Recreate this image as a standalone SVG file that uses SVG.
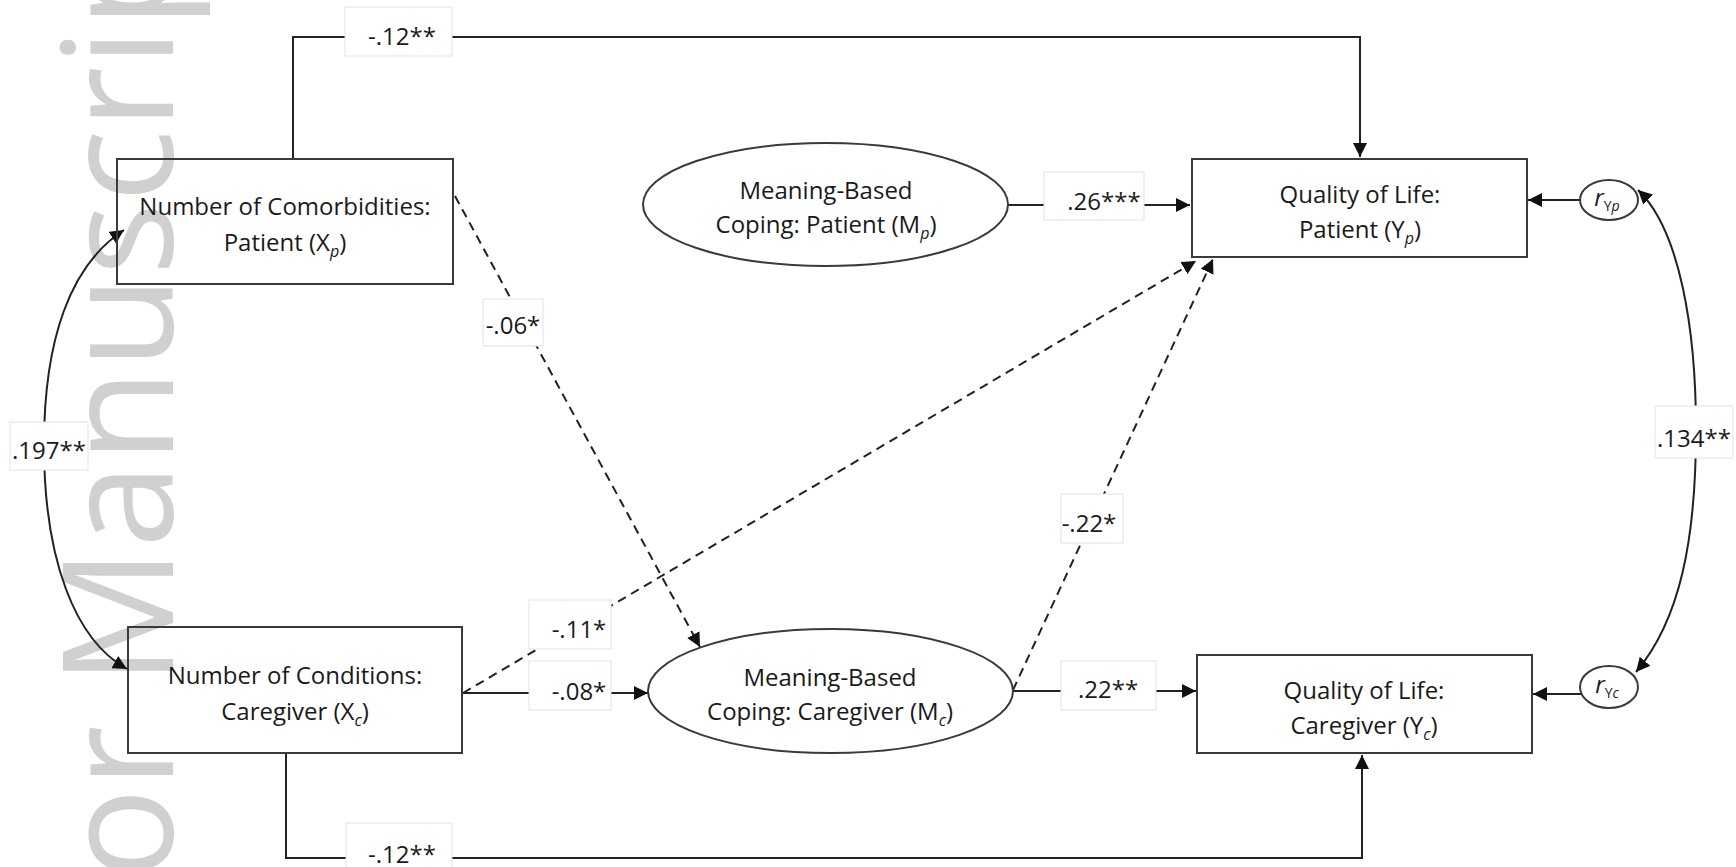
<svg xmlns="http://www.w3.org/2000/svg" width="1736" height="867" viewBox="0 0 1736 867">
<defs>
<style>
text{font-family:"Open Sans","Liberation Sans",sans-serif;font-size:24px;fill:#1a1a1a}
.wm{font-size:153px;fill:#d0d0d0}
.node{fill:none;stroke:#3a3a3a;stroke-width:2}
.conn{fill:none;stroke:#222;stroke-width:2}
.dash{stroke-dasharray:9 6}
.lbl{fill:#fff;stroke:#e2e2e2;stroke-width:1}
.sub{font-size:16px;font-style:italic}
.it{font-style:italic}
</style>
<marker id="arr" viewBox="0 0 14 14" refX="14" refY="7" markerWidth="14" markerHeight="14" markerUnits="userSpaceOnUse" orient="auto-start-reverse">
<path d="M0,0 L14,7 L0,14 z" fill="#111" stroke="none"/>
</marker>
</defs>
<rect x="0" y="0" width="1736" height="867" fill="#fff"/>
<text class="wm" x="173" y="880" transform="rotate(-90 173 880)">or Manuscrip</text>

<g id="connectors">
<path class="conn" d="M293,159 V37 H1360 V157" marker-end="url(#arr)"/>
<path class="conn" d="M286,753 V858 H1362 V755" marker-end="url(#arr)"/>
<path class="conn" d="M1008,205 H1190" marker-end="url(#arr)"/>
<path class="conn" d="M462,693 H648" marker-end="url(#arr)"/>
<path class="conn" d="M1013,691 H1196" marker-end="url(#arr)"/>
<path class="conn" d="M1580,200 H1528" marker-end="url(#arr)"/>
<path class="conn" d="M1582,694 H1533" marker-end="url(#arr)"/>
<path class="conn dash" d="M455,196 L700,647" marker-end="url(#arr)"/>
<path class="conn dash" d="M463,693 L1196,261" marker-end="url(#arr)"/>
<path class="conn dash" d="M1013,690 L1213,259" marker-end="url(#arr)"/>
<path class="conn" d="M124,230 C70,265 44,340 44,445 C44,560 75,640 127,669" marker-start="url(#arr)" marker-end="url(#arr)"/>
<path class="conn" d="M1638,190 C1680,230 1696,330 1696,430 C1696,540 1680,620 1636,672" marker-start="url(#arr)" marker-end="url(#arr)"/>
</g>

<g id="labels">
<g id="lbl-top"><rect class="lbl" x="345" y="7" width="107" height="49"/><text x="402" y="45" text-anchor="middle">-.12**</text></g>
<g id="lbl-mp-yp"><rect class="lbl" x="1044" y="172" width="100" height="48"/><text x="1104" y="210" text-anchor="middle">.26***</text></g>
<g id="lbl-xp-mc"><rect class="lbl" x="483" y="299" width="60" height="47"/><text x="513" y="334" text-anchor="middle">-.06*</text></g>
<g id="lbl-xcor"><rect class="lbl" x="10" y="422" width="78" height="48"/><text x="49" y="459" text-anchor="middle">.197**</text></g>
<g id="lbl-ycor"><rect class="lbl" x="1655" y="406" width="78" height="52"/><text x="1694" y="447" text-anchor="middle">.134**</text></g>
<g id="lbl-xc-yp"><rect class="lbl" x="529" y="600" width="82" height="49"/><text x="579" y="638" text-anchor="middle">-.11*</text></g>
<g id="lbl-xc-mc"><rect class="lbl" x="529" y="661" width="82" height="49"/><text x="579" y="700" text-anchor="middle">-.08*</text></g>
<g id="lbl-mc-yp"><rect class="lbl" x="1061" y="494" width="62" height="49"/><text x="1089" y="532" text-anchor="middle">-.22*</text></g>
<g id="lbl-mc-yc"><rect class="lbl" x="1061" y="661" width="95" height="49"/><text x="1108" y="698" text-anchor="middle">.22**</text></g>
<g id="lbl-bottom"><rect class="lbl" x="346" y="823" width="106" height="50"/><text x="402" y="863" text-anchor="middle">-.12**</text></g>
</g>

<g id="Xp">
<rect class="node" x="117" y="159" width="336" height="125"/>
<text x="285" y="215" text-anchor="middle">Number of Comorbidities:</text>
<text x="285" y="251" text-anchor="middle">Patient (X<tspan class="sub" dy="6">p</tspan><tspan dy="-6">)</tspan></text>
</g>
<g id="Xc">
<rect class="node" x="128" y="627" width="334" height="126"/>
<text x="295" y="684" text-anchor="middle">Number of Conditions:</text>
<text x="295" y="720" text-anchor="middle">Caregiver (X<tspan class="sub" dy="6">c</tspan><tspan dy="-6">)</tspan></text>
</g>
<g id="Mp">
<ellipse class="node" cx="825.5" cy="204.5" rx="182.5" ry="61.5"/>
<text x="826" y="199" text-anchor="middle">Meaning-Based</text>
<text x="826" y="233" text-anchor="middle">Coping: Patient (M<tspan class="sub" dy="6">p</tspan><tspan dy="-6">)</tspan></text>
</g>
<g id="Mc">
<ellipse class="node" cx="830.5" cy="691" rx="182.5" ry="62"/>
<text x="830" y="686" text-anchor="middle">Meaning-Based</text>
<text x="830" y="720" text-anchor="middle">Coping: Caregiver (M<tspan class="sub" dy="6">c</tspan><tspan dy="-6">)</tspan></text>
</g>
<g id="Yp">
<rect class="node" x="1192" y="159" width="335" height="98"/>
<text x="1360" y="203" text-anchor="middle">Quality of Life:</text>
<text x="1360" y="238" text-anchor="middle">Patient (Y<tspan class="sub" dy="6">p</tspan><tspan dy="-6">)</tspan></text>
</g>
<g id="Yc">
<rect class="node" x="1197" y="655" width="335" height="98"/>
<text x="1364" y="699" text-anchor="middle">Quality of Life:</text>
<text x="1364" y="734" text-anchor="middle">Caregiver (Y<tspan class="sub" dy="6">c</tspan><tspan dy="-6">)</tspan></text>
</g>
<g id="rYp">
<ellipse class="node" cx="1609" cy="200" rx="29" ry="20"/>
<text x="1607" y="206" text-anchor="middle"><tspan class="it">r</tspan><tspan font-size="14" dy="5">Y</tspan><tspan font-size="14" class="it">p</tspan></text>
</g>
<g id="rYc">
<ellipse class="node" cx="1609" cy="687" rx="29" ry="21"/>
<text x="1607" y="693" text-anchor="middle"><tspan class="it">r</tspan><tspan font-size="14" dy="5">Y</tspan><tspan font-size="14" class="it">c</tspan></text>
</g>
</svg>
